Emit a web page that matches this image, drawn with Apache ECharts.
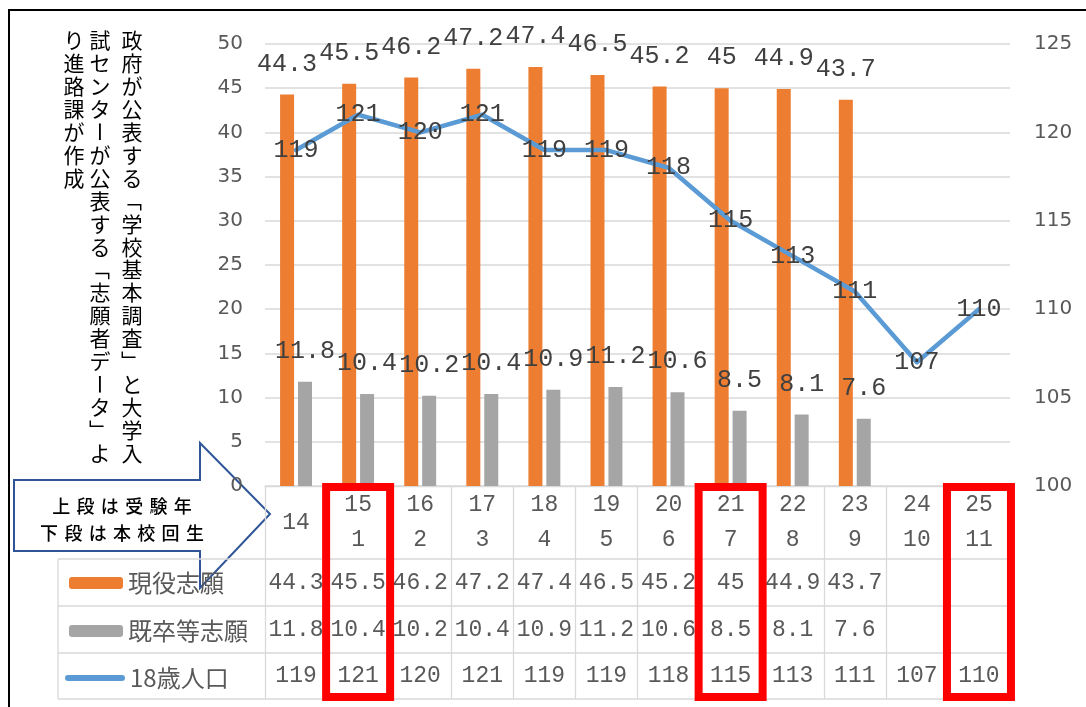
<!DOCTYPE html>
<html><head><meta charset="utf-8">
<script src="https://cdn.jsdelivr.net/npm/echarts@6/dist/echarts.min.js"></script>
<style>html,body{margin:0;padding:0;background:#fff}#c{width:1086px;height:707px}</style>
</head><body><div id="c"></div>
<script>
// ---- data ----
const years = ['14','15','16','17','18','19','20','21','22','23','24','25'];
const classNo = ['','1','2','3','4','5','6','7','8','9','10','11'];
const genekiShigan = [44.3,45.5,46.2,47.2,47.4,46.5,45.2,45,44.9,43.7,null,null];
const kisotsuShigan = [11.8,10.4,10.2,10.4,10.9,11.2,10.6,8.5,8.1,7.6,null,null];
const pop18 = [119,121,120,121,119,119,118,115,113,111,107,110];
const seriesNames = ['現役志願','既卒等志願','18歳人口'];
const leftAxis = {min:0, max:50, interval:5};
const rightAxis = {min:100, max:125, interval:5};
const highlightCols = [1,7,11];
const noteColumns = ['政府が公表する「学校基本調査」と大学入','試センターが公表する「志願者データ」よ','り進路課が作成'];
const arrowLines = ['上段は受験年','下段は本校回生'];

// ---- layout ----
const PL = 265, PR = 1010, PT = 44, PB = 486;
const rowY = [486, 559, 606, 653, 699];
const tableLeft = 58;
const GRID = '#D9D9D9';
const TXT = '#595959';
const MONO = 'Liberation Mono';
const JP = 'Noto Sans CJK JP';

const categories = years.map((y,i)=> classNo[i] ? y + '\n' + classNo[i] : y);
const fmtRow = arr => arr.map(v => v == null ? '' : String(v));
const tableRows = [fmtRow(genekiShigan), fmtRow(kisotsuShigan), fmtRow(pop18)];
const idxCats = years.map((_, i) => String(i));

const chart = echarts.init(document.getElementById('c'), null, {renderer:'canvas'});

const rowAxis = (k) => ({
  type:'category', gridIndex:0, position:'bottom', data: idxCats,
  axisLine:{show:false}, axisTick:{show:false}, splitLine:{show:false},
  axisLabel:{interval:0, margin:(rowY[k+1]+rowY[k+2])/2 - PB, verticalAlign:'middle',
    fontFamily:MONO, fontSize:23, color:TXT, hideOverlap:false,
    formatter:(v, i) => tableRows[k][i]}
});

const graphics = [];
// frame
graphics.push({type:'rect', z:100, shape:{x:9,y:10,width:1100,height:720}, style:{fill:'none', stroke:'#000', lineWidth:2}, silent:true});
// table lines
for (let r = 1; r < rowY.length; r++) {
  graphics.push({type:'line', shape:{x1:tableLeft, y1:rowY[r], x2:PR, y2:rowY[r]}, style:{stroke:GRID, lineWidth:1.3}, silent:true});
}
graphics.push({type:'line', shape:{x1:tableLeft, y1:rowY[1], x2:tableLeft, y2:rowY[4]}, style:{stroke:GRID, lineWidth:1.3}, silent:true});
// arrow callout
graphics.push({type:'polygon', z:-1, shape:{points:[[14,480],[200,480],[200,443],[270,514],[200,588],[200,551],[14,551]]},
  style:{fill:'#fff', stroke:'#2F5597', lineWidth:2}, silent:true});
const arrowY = [506, 533];
arrowLines.forEach((line, li) => {
  const adv = 24.3, n = line.length;
  const x0 = 122 - adv*(n-1)/2;
  line.split('').forEach((ch, ci) => {
    graphics.push({type:'text', z:-1, x: x0 + ci*adv, y: arrowY[li], silent:true,
      style:{text:ch, font:'500 18px "Noto Sans CJK JP"', fill:'#000', align:'center', verticalAlign:'middle'}});
  });
});
// vertical note (one glyph per cell; brackets and long-vowel mark rotated as in vertical writing)
const noteX = [132, 100, 74];
const rotChars = '「」ー';
noteColumns.forEach((col, i) => {
  col.split('').forEach((ch, j) => {
    const rot = rotChars.indexOf(ch) >= 0;
    graphics.push({type:'text', x: noteX[i], y: 40 + j*22.95, rotation: rot ? -Math.PI/2 : 0, silent:true,
      style:{text: ch, font:'21px "Noto Sans CJK JP"', fill:'#000', align:'center', verticalAlign:'middle'}});
  });
});

const labelStyle = {fontFamily:MONO, fontSize:25, color:'#404040'};

chart.setOption({
  animation:false,
  grid:{left:PL, right:1086-PR, top:PT, bottom:707-PB, outerBoundsMode:'none', containLabel:false},
  legend:[
    {data:[seriesNames[0]], left:69, top:583-12, padding:0, itemWidth:54, itemHeight:12, selectedMode:false,
      textStyle:{fontFamily:JP, fontSize:24, color:TXT}},
    {data:[seriesNames[1]], left:69, top:631-12, padding:0, itemWidth:54, itemHeight:12, selectedMode:false,
      textStyle:{fontFamily:JP, fontSize:24, color:TXT}},
    {data:[{name:seriesNames[2], icon:'path://M3,0 L57,0 A3,3 0 0 1 57,6 L3,6 A3,3 0 0 1 3,0 Z'}], left:65, top:678-12, padding:0, itemWidth:60, itemHeight:6, selectedMode:false,
      textStyle:{fontFamily:JP, fontSize:24, color:TXT}}
  ],
  xAxis:[
    {type:'category', data:categories, boundaryGap:true,
      axisLine:{show:true, lineStyle:{color:GRID, width:1.3}},
      axisTick:{show:true, interval:0, length:rowY[4]-PB, lineStyle:{color:GRID, width:1.3}},
      splitLine:{show:false},
      axisLabel:{interval:0, margin:(rowY[0]+rowY[1])/2 - PB, verticalAlign:'middle', lineHeight:35,
        fontFamily:MONO, fontSize:23, color:TXT, hideOverlap:false}},
    rowAxis(0), rowAxis(1), rowAxis(2)
  ],
  yAxis:[
    {type:'value', min:leftAxis.min, max:leftAxis.max, interval:leftAxis.interval,
      axisLine:{show:false}, axisTick:{show:false},
      splitLine:{show:true, lineStyle:{color:GRID, width:1.5}},
      axisLabel:{margin:22, fontFamily:'DejaVu Sans', fontSize:20, color:TXT}},
    {type:'value', min:rightAxis.min, max:rightAxis.max, interval:rightAxis.interval, position:'right',
      axisLine:{show:false}, axisTick:{show:false}, splitLine:{show:false},
      axisLabel:{margin:24, fontFamily:'DejaVu Sans', fontSize:20, color:TXT}}
  ],
  series:[
    {name:seriesNames[0], type:'bar', data:genekiShigan, barWidth:14, barGap:'28%',
      itemStyle:{color:'#ED7D31'}, label:Object.assign({show:true, position:'top', distance:18}, labelStyle)},
    {name:seriesNames[1], type:'bar', data:kisotsuShigan, barWidth:14, barGap:'28%',
      itemStyle:{color:'#A5A5A5'}, label:Object.assign({show:true, position:'top', distance:18}, labelStyle)},
    {name:seriesNames[2], type:'line', yAxisIndex:1, data:pop18, symbol:'circle', symbolSize:1, showSymbol:true, z:5,
      lineStyle:{color:'#5B9BD5', width:4.5, cap:'round', join:'round'}, itemStyle:{color:'#5B9BD5'},
      label:Object.assign({show:true, position:'inside'}, labelStyle)}
  ],
  graphic: graphics
});

// red highlight boxes around selected columns (positioned via the category axis)
const hl = highlightCols.map((ci, k) => {
  const cx = chart.convertToPixel({xAxisIndex:0}, ci);
  return {type:'rect', id:'hl'+k, z:50, silent:true,
    shape:{x: cx-32, y: rowY[0]+1, width:64, height:rowY[4]-rowY[0]-3},
    style:{fill:'none', stroke:'#FF0000', lineWidth:8}};
});
chart.setOption({graphic: graphics.concat(hl)});
</script>
</body></html>
